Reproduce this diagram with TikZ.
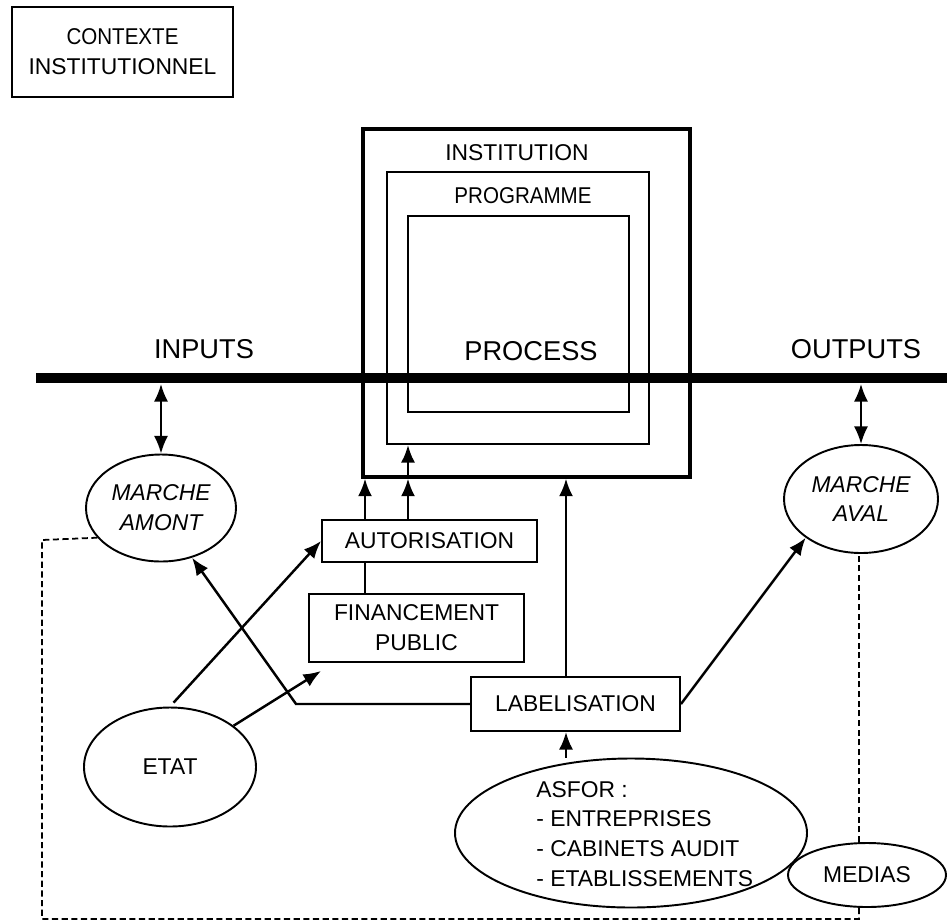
\documentclass[tikz,border=0pt]{standalone}
\usepackage{fontspec}
\setmainfont{Liberation Sans}
\newfontfamily\narrowfont[FakeStretch=0.9]{Liberation Sans}
\usetikzlibrary{arrows.meta, calc, shapes.geometric}

\begin{document}
\begin{tikzpicture}[x=0.2mm, y=-0.2mm,
        txt/.style={font=\fontsize{13}{17}\selectfont, align=center, inner sep=0pt},
        head/.style={font=\fontsize{15.5}{18}\selectfont, inner sep=0pt},
        box/.style={txt, draw, line width=1.1pt},
        frame/.style={draw, line width=1.1pt, inner sep=0pt},
        oval/.style={txt, draw, ellipse, line width=1.1pt},
        marche/.style={oval, font=\fontsize{13}{17}\selectfont\itshape},
        arr/.style={line width=1.4pt, -{Latex[length=10pt,width=8pt]}},
        dbl/.style={line width=1.1pt, {Latex[length=10pt,width=8pt]}-{Latex[length=10pt,width=8pt]}},
        feedback/.style={line width=1pt, dash pattern=on 3.5pt off 2pt}]
            \useasboundingbox (0,0) rectangle (947,922);

            \coordinate (barL) at (36,378);
            \coordinate (barR) at (947,378);
            \coordinate (xa) at (365,0);% autorisation / financement
            \coordinate (xb) at (408,0);% autorisation -> programme
            \coordinate (xl) at (566,0);% labelisation
            \coordinate (xm) at (859,0);% medias
            \coordinate (loopSE) at (859,919);
            \coordinate (loopSW) at (42,919);
            \coordinate (loopNW) at (42,540);

            \node[box, line width=0.9pt, minimum width=44.2mm, minimum height=18mm] (contexte) at (122.5,52)
                {{\narrowfont CONTEXTE}\\INSTITUTIONNEL};

            % the nested frames
            \node[frame, line width=1.8pt, minimum width=65.4mm, minimum height=69.6mm] (inst) at (526.5,303) {};
            \node[frame, minimum width=52.4mm, minimum height=54.4mm] (prog) at (518,308) {};
            \node[frame, minimum width=44.2mm, minimum height=39.2mm] (proc) at (518.5,314) {};
            \node[txt] (instlabel) at (517,153) {INSTITUTION};
            \node[txt] (proglabel) at (523,196) {\narrowfont PROGRAMME};

            \draw[line width=5.7pt] (barL) -- (barR);% inputs / process / outputs
            \node[head] (inputs) at (204,349) {INPUTS};
            \node[head] (process) at (531,351) {PROCESS};
            \node[head] (outputs) at (856,349) {OUTPUTS};

            \node[marche, minimum width=30mm, minimum height=21.4mm] (amont) at (161,508) {MARCHE\\AMONT};
            \node[marche, minimum width=30.8mm, minimum height=21.6mm] (aval) at (861,499) {MARCHE\\AVAL};
            \node[box, minimum width=43mm, minimum height=8.4mm] (autor) at (429.5,541) {AUTORISATION};
            \node[box, minimum width=43mm, minimum height=13.6mm] (finance) at (416.5,628) {FINANCEMENT\\PUBLIC};
            \node[box, minimum width=41.8mm, minimum height=10.8mm] (label) at (575.5,704) {LABELISATION};
            \node[oval, minimum width=34.4mm, minimum height=23.8mm] (etat) at (170,767) {ETAT};
            \node[oval, minimum width=70.4mm, minimum height=29.8mm] (asfor) at (631,833) {};
            \node[txt, align=left, anchor=west] (asfortxt) at (536,834)
                {ASFOR :\\- ENTREPRISES\\- CABINETS AUDIT\\- ETABLISSEMENTS};
            \node[oval, fill=white, minimum width=31.6mm, minimum height=12.8mm] (medias) at (867,875) {MEDIAS};

            \draw[dbl] ($(amont.north |- barL)+(0,6)$) -- (amont.north);
            \draw[dbl] ($(aval.north |- barR)+(0,6)$) -- (aval.north);

            \draw[line width=1.1pt] (finance.north -| xa) -- (autor.south -| xa);
            \draw[arr] (autor.north -| xa) -- (inst.south -| xa);
            \draw[arr] (autor.north -| xb) -- (inst.south -| xb);
            \draw[arr] (inst.south -| xb) -- (prog.south -| xb);
            \draw[arr] (label.north -| xl) -- (inst.south -| xl);
            \draw[arr] (asfor.north -| xl) -- (label.south -| xl);

            \draw[arr, shorten <=3pt] (etat.north) -- (autor.west);
            \draw[arr] (etat.33) -- ($(finance.south west)+(13,8)$);
            \draw[arr] (label.west) -- ++(-174,0) -- (amont.-58);
            \draw[arr] (label.east) -- (aval.215);

            % feedback from the medias
            \draw[feedback] (medias.north -| xm) -- (aval.south -| xm);
            \draw[feedback] (medias.south -| xm) -- (loopSE) -- (loopSW) -- (loopNW) -- (amont.205);
        \end{tikzpicture}
\end{document}
